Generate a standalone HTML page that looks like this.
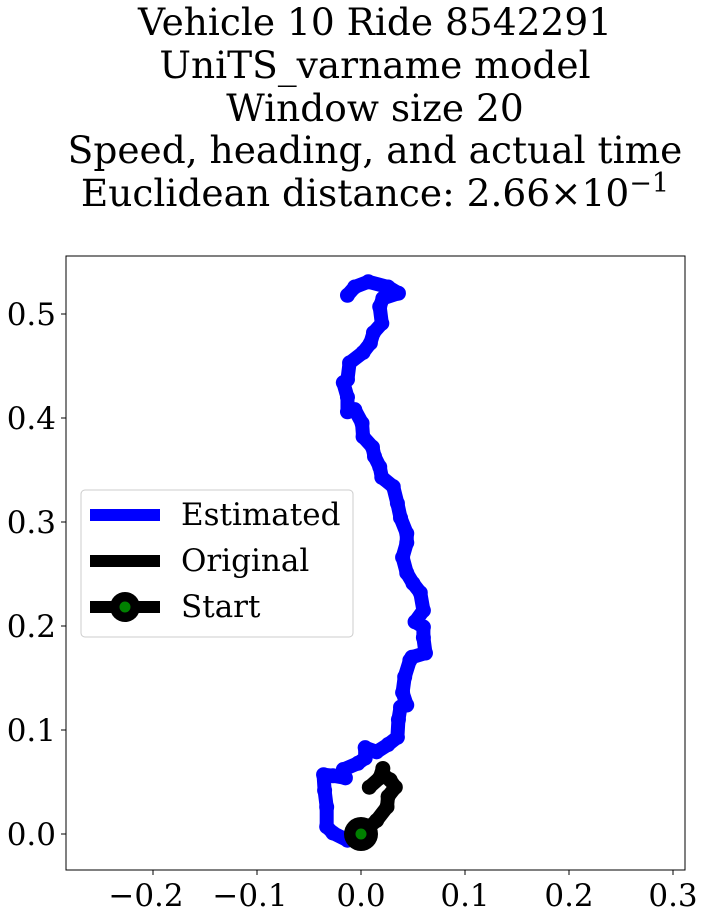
<!DOCTYPE html>
<html><head><meta charset="utf-8"><style>
body{margin:0;background:#fff;}
svg text{font-family:"DejaVu Serif","Liberation Serif",serif;fill:#000;}
</style></head><body>
<svg id="chart" width="705" height="918" xmlns="http://www.w3.org/2000/svg">
<g font-size="37.5" text-anchor="middle">
<text x="375" y="35">Vehicle 10 Ride 8542291</text>
<text x="375" y="78">UniTS_varname model</text>
<text x="375" y="121">Window size 20</text>
<text x="375" y="163">Speed, heading, and actual time</text>
<text x="375" y="206">Euclidean distance: 2.66×10<tspan dy="-14" font-size="27">−1</tspan></text>
</g>
<g id="ticks"></g>
<g id="marks"></g>
<rect x="66" y="256" width="619" height="614" fill="none" stroke="#000" stroke-width="1"/>
<g>
<rect x="81" y="490" width="272" height="147" rx="4" fill="#fff" fill-opacity="0.8" stroke="#ccc"/>
<g><line x1="90" y1="515" x2="160" y2="515" stroke="#0000ff" stroke-width="12"/><text x="181" y="525" font-size="31">Estimated</text></g>
<g><line x1="90" y1="561" x2="160" y2="561" stroke="#000" stroke-width="12"/><text x="181" y="571" font-size="31">Original</text></g>
<g><line x1="90" y1="607" x2="160" y2="607" stroke="#000" stroke-width="12"/><circle cx="125" cy="607" r="15" fill="#000"/><circle cx="125" cy="607" r="5.5" fill="green"/><text x="181" y="617" font-size="31">Start</text></g>
</g>
</svg>
<script>
const estX=[-0.001,-0.013,-0.027,-0.033,-0.033,-0.035,-0.036,-0.027,-0.015,-0.017,-0.003,0.004,0.004,0.015,0.026,0.035,0.036,0.038,0.044,0.040,0.042,0.047,0.049,0.062,0.060,0.060,0.052,0.060,0.057,0.050,0.044,0.040,0.044,0.044,0.038,0.035,0.031,0.020,0.018,0.013,0.011,0.002,0.001,-0.006,-0.013,-0.013,-0.017,-0.013,-0.011,0.002,0.009,0.012,0.020,0.018,0.021,0.036,0.026,0.007,-0.006,-0.013];
const estY=[0.000,-0.006,0.001,0.007,0.026,0.042,0.057,0.056,0.054,0.062,0.068,0.073,0.083,0.079,0.086,0.093,0.110,0.122,0.124,0.136,0.151,0.167,0.170,0.174,0.189,0.199,0.204,0.215,0.232,0.241,0.251,0.266,0.280,0.289,0.304,0.318,0.334,0.343,0.353,0.363,0.372,0.382,0.395,0.408,0.406,0.420,0.434,0.437,0.453,0.463,0.472,0.482,0.491,0.507,0.515,0.520,0.526,0.531,0.526,0.518];
const origX=[0,0.015,0.025,0.026,0.033,0.028,0.020,0.021,0.018,0.008];
const origY=[0,0.013,0.026,0.036,0.045,0.052,0.058,0.063,0.054,0.045];
const startX=[0], startY=[0];
const xTicks=[-0.2,-0.1,0.0,0.1,0.2,0.3];
const yTicks=[0.0,0.1,0.2,0.3,0.4,0.5];
const NS="http://www.w3.org/2000/svg";
const sx=v=>361+v*1040, sy=v=>834-v*1040;
const ticks=document.getElementById('ticks'), marks=document.getElementById('marks');
function fmt(v){return (v<0?'−':'')+Math.abs(v).toFixed(1);}
xTicks.forEach(t=>{
  const l=document.createElementNS(NS,'line');
  
  
  l.setAttribute('x1',sx(t));l.setAttribute('x2',sx(t));l.setAttribute('y1',870);l.setAttribute('y2',875);l.setAttribute('stroke','#000');
  ticks.appendChild(l);
  const tx=document.createElementNS(NS,'text');
  
  
  tx.setAttribute('x',sx(t)-(t<0?7:0));tx.setAttribute('y',906);tx.setAttribute('font-size','31');tx.setAttribute('text-anchor','middle');
  tx.textContent=fmt(t);ticks.appendChild(tx);
});
yTicks.forEach(t=>{
  const l=document.createElementNS(NS,'line');
  
  
  l.setAttribute('x1',61);l.setAttribute('x2',66);l.setAttribute('y1',sy(t));l.setAttribute('y2',sy(t));l.setAttribute('stroke','#000');
  ticks.appendChild(l);
  const tx=document.createElementNS(NS,'text');
  
  
  tx.setAttribute('x',56);tx.setAttribute('y',sy(t)+11);tx.setAttribute('font-size','31');tx.setAttribute('text-anchor','end');
  tx.textContent=t.toFixed(1);ticks.appendChild(tx);
});
function path(xs,ys,color,name){
  const p=document.createElementNS(NS,'polyline');
  
  
  p.setAttribute('points',xs.map((x,i)=>sx(x)+','+sy(ys[i])).join(' '));
  p.setAttribute('fill','none');p.setAttribute('stroke',color);p.setAttribute('stroke-width','14');
  p.setAttribute('stroke-linejoin','round');p.setAttribute('stroke-linecap','round');
  marks.appendChild(p);
  xs.forEach((x,i)=>{
    const c=document.createElementNS(NS,'circle');
    
    
    c.setAttribute('cx',sx(x));c.setAttribute('cy',sy(ys[i]));c.setAttribute('r',7.5);c.setAttribute('fill',color);
    marks.appendChild(c);
  });
}
path(estX,estY,'#0000ff','estimated-path');
path(origX,origY,'#000','original-path');
const c1=document.createElementNS(NS,'circle');


c1.setAttribute('cx',sx(startX[0]));c1.setAttribute('cy',sy(startY[0]));c1.setAttribute('r',17);c1.setAttribute('fill','#000');
marks.appendChild(c1);
const c2=document.createElementNS(NS,'circle');


c2.setAttribute('cx',sx(startX[0]));c2.setAttribute('cy',sy(startY[0]));c2.setAttribute('r',5.5);c2.setAttribute('fill','green');
marks.appendChild(c2);
</script>
</body></html>
